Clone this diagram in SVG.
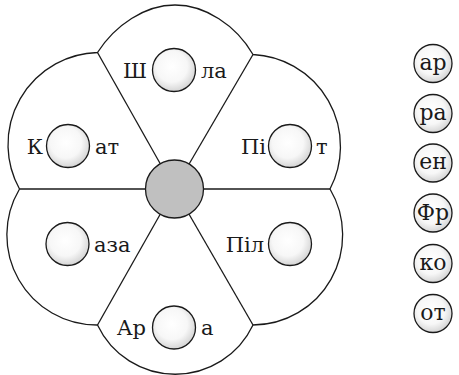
<svg xmlns="http://www.w3.org/2000/svg" width="459" height="375" viewBox="0 0 459 375">
<defs>
<radialGradient id="ball" cx="0.45" cy="0.42" r="0.6">
<stop offset="0" stop-color="#ffffff"/>
<stop offset="0.6" stop-color="#f7f7f7"/>
<stop offset="1" stop-color="#d2d2d2"/>
</radialGradient>
</defs>
<style>
.ln{fill:none;stroke:#1a1a1a;stroke-width:1.3}
.ball{fill:url(#ball);stroke:#1a1a1a;stroke-width:1.3}
.hub{fill:#c0c0c0;stroke:#1a1a1a;stroke-width:1.3}
text{font-family:"DejaVu Serif","Liberation Serif",serif;font-size:21px;fill:#1a1a1a}
.e{text-anchor:end}
.m{text-anchor:middle;font-size:22px}
</style>
<rect width="459" height="375" fill="#ffffff"/>
<g id="flower">
<path class="ln" fill="#fff" d="M97.5,52.5 C115,25 145,5 175,5 C205,5 236,25 253,54.5 A92,92 0 0 1 330,189 A90,90 0 0 1 253,325 A86,86 0 0 1 97.5,325 A90,90 0 0 1 19.5,189 A92,92 0 0 1 97.5,52.5 Z"/>
</g>
<g id="connectors">
<line class="ln" x1="19.5" y1="189" x2="330" y2="189"/>
<line class="ln" x1="174.5" y1="189" x2="97.5" y2="52.5"/>
<line class="ln" x1="174.5" y1="189" x2="253" y2="54.5"/>
<line class="ln" x1="174.5" y1="189" x2="97.5" y2="325"/>
<line class="ln" x1="174.5" y1="189" x2="253" y2="325"/>
</g>
<g id="hub"><circle class="hub" cx="174.5" cy="189" r="29"/></g>
<g id="petal-top"><text class="e" x="147" y="77.5">Ш</text><circle class="ball" cx="174" cy="70" r="21.5"/><text x="201" y="77.5">ла</text></g>
<g id="petal-ul"><text class="e" x="43" y="154">К</text><circle class="ball" cx="68" cy="146" r="21.5"/><text x="95" y="154">ат</text></g>
<g id="petal-ur"><text class="e" x="266" y="154">Пі</text><circle class="ball" cx="290" cy="146" r="21.5"/><text x="316" y="154">т</text></g>
<g id="petal-ll"><circle class="ball" cx="67.5" cy="244" r="21.5"/><text x="94" y="252">аза</text></g>
<g id="petal-lr"><text class="e" x="264" y="252">Піл</text><circle class="ball" cx="290" cy="244" r="21.5"/></g>
<g id="petal-bottom"><text class="e" x="146" y="335">Ар</text><circle class="ball" cx="174" cy="327.5" r="21.5"/><text x="201" y="335">а</text></g>
<g id="opt-1"><circle class="ball" cx="433" cy="63.5" r="19"/><text class="m" x="433" y="69.5">ар</text></g>
<g id="opt-2"><circle class="ball" cx="433" cy="113.5" r="19"/><text class="m" x="433" y="119.5">ра</text></g>
<g id="opt-3"><circle class="ball" cx="433" cy="163" r="19"/><text class="m" x="433" y="169">ен</text></g>
<g id="opt-4"><circle class="ball" cx="433" cy="213" r="19"/><text class="m" x="433" y="219.5">Фр</text></g>
<g id="opt-5"><circle class="ball" cx="433" cy="263.5" r="19"/><text class="m" x="433" y="269.5">ко</text></g>
<g id="opt-6"><circle class="ball" cx="433" cy="313.5" r="19"/><text class="m" x="433" y="319.5">от</text></g>
</svg>
